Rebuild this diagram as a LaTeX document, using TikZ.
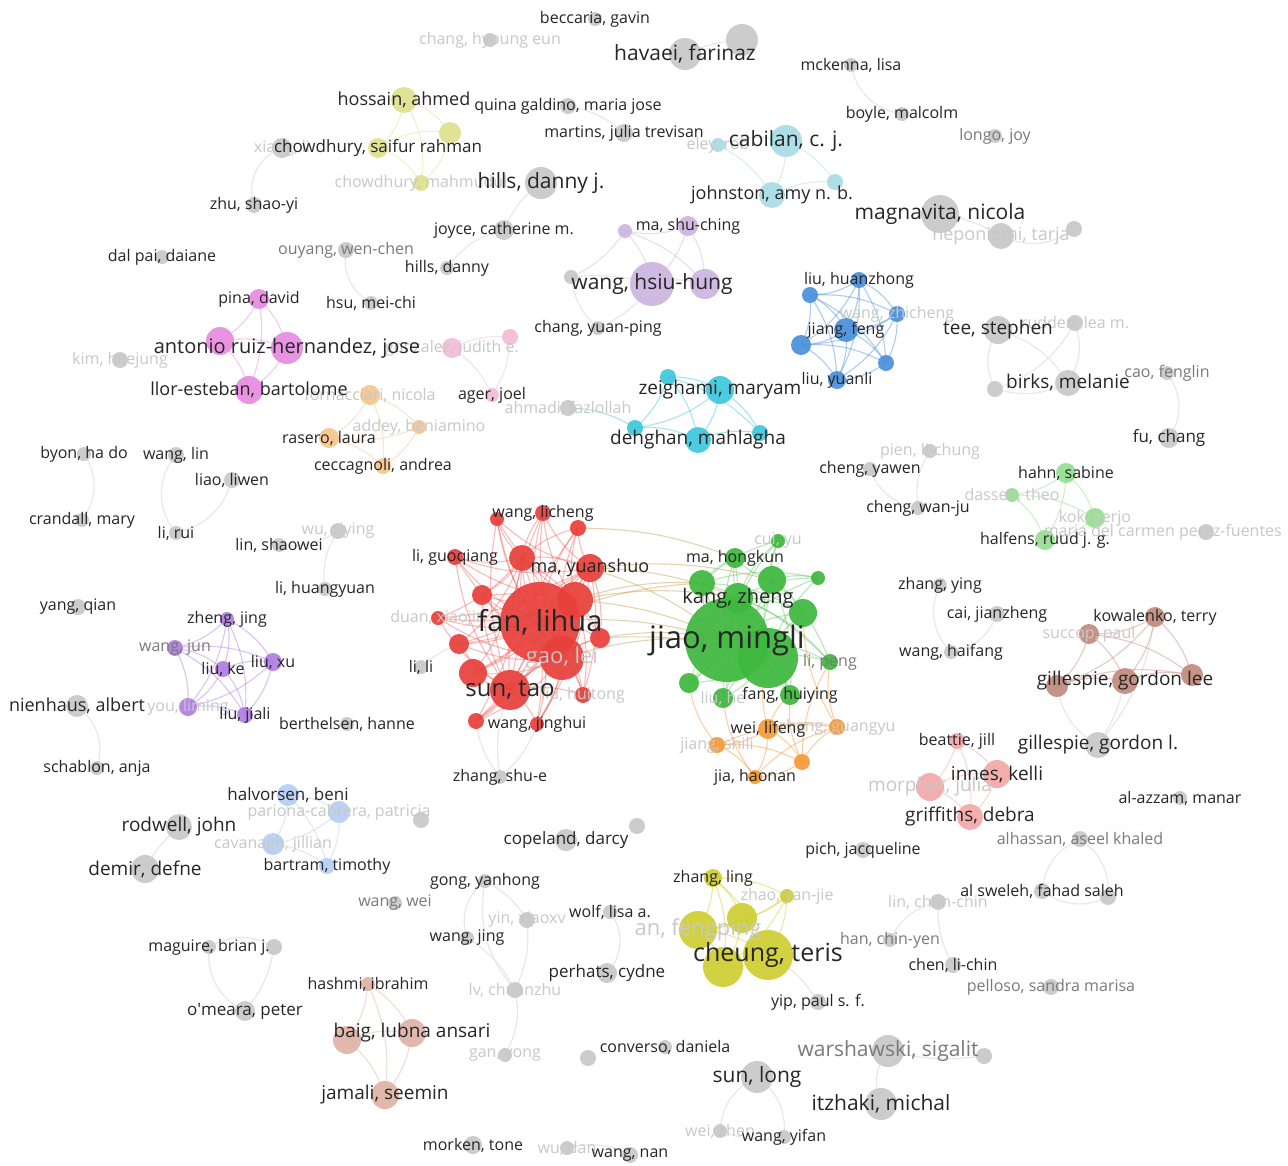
\documentclass[tikz,border=0pt]{standalone}
\usepackage{fontspec}
\setmainfont{Open Sans}
\pgfdeclarelayer{bglayer}\pgfdeclarelayer{edgelayer}\pgfdeclarelayer{textlayer}
\pgfsetlayers{bglayer,edgelayer,main,textlayer}
\definecolor{cgray}{HTML}{C8C8C8}
\definecolor{cyel}{HTML}{E0E08F}
\definecolor{ccyl}{HTML}{A8DDE7}
\definecolor{clav}{HTML}{CDB5E0}
\definecolor{cblue}{HTML}{4A90DB}
\definecolor{cpink}{HTML}{E88BE1}
\definecolor{cpinkl}{HTML}{F2BCD9}
\definecolor{corl}{HTML}{F6C68E}
\definecolor{ccy}{HTML}{3EC8DD}
\definecolor{cgrl}{HTML}{95DE8F}
\definecolor{cred}{HTML}{E8403B}
\definecolor{cgreen}{HTML}{3DB83D}
\definecolor{cor}{HTML}{F59A38}
\definecolor{cpur}{HTML}{B07EE0}
\definecolor{cbll}{HTML}{B5CFF2}
\definecolor{cbr}{HTML}{C28A7E}
\definecolor{csal}{HTML}{F5A8A8}
\definecolor{colv}{HTML}{CECE32}
\definecolor{ctan}{HTML}{DFB2A6}
\definecolor{labcol}{HTML}{262626}
\definecolor{midcol}{HTML}{7A7A7A}
\definecolor{fadecol}{HTML}{C8C8C8}
\newcommand\myfs[1]{\fontsize{#1}{#1}\selectfont}
\newcommand\mynode[5]{\node[#5,minimum size=#4*2] (#1) at (#2,#3) {};}
\newcommand\mylab[3]{\node[#3] (#1-t) at (#1) {#2};}
\begin{document}
\begin{tikzpicture}[x=1pt,y=-1pt,
  nd/.style={circle,inner sep=0pt,outer sep=0pt,draw=none,fill opacity=0.92},
  ngray/.style={nd,fill=cgray}, nyel/.style={nd,fill=cyel}, ncyl/.style={nd,fill=ccyl},
  nlav/.style={nd,fill=clav}, nblue/.style={nd,fill=cblue}, npink/.style={nd,fill=cpink},
  npinkl/.style={nd,fill=cpinkl}, norl/.style={nd,fill=corl}, ncy/.style={nd,fill=ccy},
  ngrl/.style={nd,fill=cgrl}, nred/.style={nd,fill=cred}, ngreen/.style={nd,fill=cgreen},
  nor/.style={nd,fill=cor}, npur/.style={nd,fill=cpur}, nbll/.style={nd,fill=cbll},
  nbr/.style={nd,fill=cbr}, nsal/.style={nd,fill=csal}, nolv/.style={nd,fill=colv},
  ntan/.style={nd,fill=ctan},
  lab/.style={inner sep=0pt,text=labcol,font=\myfs{16}},
  labm/.style={lab,text=midcol},
  labf/.style={lab,text=fadecol},
  eg/.style={draw=black!9,line width=1.2pt},
  ec/.style={line width=1.1pt,draw opacity=0.45}]
\begin{pgfonlayer}{bglayer}
\fill[white] (0,0) rectangle (1288,1165);
\end{pgfonlayer}
\useasboundingbox (0,0) rectangle (1288,1165);
\clip (0,0) rectangle (1288,1165);
% ---------- nodes ----------
\mynode{beccaria}{595}{19}{7}{ngray}
\mynode{changh}{490}{40}{7}{ngray}
\mynode{havaei}{685}{54}{16}{ngray}
\mynode{hav2}{742}{40}{16}{ngray}
\mynode{mckenna}{851}{65}{7}{ngray}
\mynode{boyle}{902}{114}{7}{ngray}
\mynode{longo}{995}{136}{7}{ngray}
\mynode{hossain}{404}{100}{13}{nyel}
\mynode{chowsr}{378}{148}{10}{nyel}
\mynode{yel3}{450}{133}{11}{nyel}
\mynode{chowm}{421}{183}{8}{nyel}
\mynode{xia}{282}{148}{10}{ngray}
\mynode{zhu}{254}{205}{8}{ngray}
\mynode{hillsdj}{541}{183}{16}{ngray}
\mynode{joyce}{504}{230}{10}{ngray}
\mynode{hillsd}{447}{268}{7}{ngray}
\mynode{quina}{568}{106}{8}{ngray}
\mynode{martins}{624}{133}{9}{ngray}
\mynode{cabilan}{786}{141}{16}{ncyl}
\mynode{eley}{718}{145}{7}{ncyl}
\mynode{johnston}{772}{195}{13}{ncyl}
\mynode{cy4}{835}{182}{8}{ncyl}
\mynode{magnavita}{940}{214}{19}{ngray}
\mynode{heponiemi}{1001}{236}{13}{ngray}
\mynode{mag3}{1074}{229}{8}{ngray}
\mynode{ouyang}{346}{250}{8}{ngray}
\mynode{hsu}{371}{303}{7}{ngray}
\mynode{dalpai}{162}{257}{7}{ngray}
\mynode{mashu}{688}{226}{10}{nlav}
\mynode{lav2}{625}{231}{7}{nlav}
\mynode{wanghh}{652}{284}{22}{nlav}
\mynode{lav4}{705}{284}{15}{nlav}
\mynode{g571}{571}{277}{7}{ngray}
\mynode{changyp}{598}{328}{7}{ngray}
\mynode{liuh}{859}{280}{8}{nblue}
\mynode{b2}{810}{295}{8}{nblue}
\mynode{wangz}{897}{314}{8}{nblue}
\mynode{jiangf}{846}{330}{12}{nblue}
\mynode{b5}{801}{345}{10}{nblue}
\mynode{b6}{886}{363}{8}{nblue}
\mynode{liuy}{837}{380}{9}{nblue}
\mynode{tee}{998}{330}{14}{ngray}
\mynode{rudden}{1075}{323}{8}{ngray}
\mynode{birks}{1068}{383}{13}{ngray}
\mynode{t4}{995}{389}{8}{ngray}
\mynode{cao}{1167}{373}{7}{ngray}
\mynode{fu}{1169}{438}{10}{ngray}
\mynode{pina}{259}{299}{10}{npink}
\mynode{arh1}{220}{341}{14}{npink}
\mynode{arh}{287}{348}{16}{npink}
\mynode{llor}{249}{390}{14}{npink}
\mynode{kim}{120}{360}{8}{ngray}
\mynode{judith}{452}{348}{10}{npinkl}
\mynode{pl2}{510}{337}{8}{npinkl}
\mynode{ager}{492}{395}{7}{npinkl}
\mynode{fornac}{370}{395}{10}{norl}
\mynode{addey}{419}{427}{7}{norl}
\mynode{rasero}{329}{438}{10}{norl}
\mynode{cecca}{383}{466}{8}{norl}
\mynode{ahmadi}{568}{408}{8}{ngray}
\mynode{c1}{668}{377}{8}{ncy}
\mynode{zeighami}{720}{390}{14}{ncy}
\mynode{c3}{635}{428}{8}{ncy}
\mynode{dehghan}{698}{440}{13}{ncy}
\mynode{c5}{760}{433}{8}{ncy}
\mynode{byon}{84}{454}{7}{ngray}
\mynode{crandall}{82}{520}{7}{ngray}
\mynode{wanglin}{176}{455}{8}{ngray}
\mynode{liao}{232}{480}{8}{ngray}
\mynode{lirui}{176}{533}{7}{ngray}
\mynode{linsw}{279}{545}{7}{ngray}
\mynode{wusy}{338}{531}{8}{ngray}
\mynode{lihy}{325}{589}{7}{ngray}
\mynode{chengyw}{870}{469}{7}{ngray}
\mynode{pien}{930}{451}{7}{ngray}
\mynode{chengwj}{918}{508}{7}{ngray}
\mynode{hahn}{1066}{473}{10}{ngrl}
\mynode{dassen}{1012}{495}{7}{ngrl}
\mynode{kok}{1095}{518}{10}{ngrl}
\mynode{halfens}{1045}{540}{10}{ngrl}
\mynode{perez}{1206}{532}{8}{ngray}
% red cluster
\mynode{r1}{497}{519}{7}{nred}
\mynode{wanglc}{543}{513}{8}{nred}
\mynode{r3}{578}{528}{8}{nred}
\mynode{ligq}{455}{557}{8}{nred}
\mynode{r5}{522}{558}{13}{nred}
\mynode{mays}{590}{568}{14}{nred}
\mynode{r7}{482}{595}{10}{nred}
\mynode{fan}{540}{622}{40}{nred}
\mynode{r9}{575}{600}{18}{nred}
\mynode{r10}{600}{638}{10}{nred}
\mynode{r11}{459}{644}{10}{nred}
\mynode{r12}{473}{673}{14}{nred}
\mynode{gaolei}{562}{658}{22}{nred}
\mynode{suntao}{510}{690}{20}{nred}
\mynode{liuht}{583}{695}{8}{nred}
\mynode{r16}{476}{721}{8}{nred}
\mynode{wangjh}{537}{724}{7}{nred}
\mynode{duan}{438}{618}{7}{nred}
\mynode{lili}{421}{667}{7}{ngray}
\mynode{zhangse}{500}{777}{7}{ngray}
% green cluster
\mynode{cuiyu}{778}{541}{7}{ngreen}
\mynode{mahk}{735}{558}{10}{ngreen}
\mynode{g3}{702}{583}{13}{ngreen}
\mynode{g4}{772}{580}{14}{ngreen}
\mynode{g5}{818}{578}{7}{ngreen}
\mynode{kangz}{738}{598}{15}{ngreen}
\mynode{jiao}{727}{640}{42}{ngreen}
\mynode{g8}{768}{658}{30}{ngreen}
\mynode{g9}{803}{613}{14}{ngreen}
\mynode{lipeng}{830}{662}{8}{ngreen}
\mynode{g11}{689}{683}{10}{ngreen}
\mynode{liuhe}{723}{698}{10}{ngreen}
\mynode{fangh}{790}{695}{10}{ngreen}
% orange
\mynode{weilf}{768}{729}{10}{nor}
\mynode{jiangs}{717}{745}{8}{nor}
\mynode{o3}{802}{762}{8}{nor}
\mynode{jiahn}{755}{777}{7}{nor}
\mynode{zhanggy}{837}{727}{8}{nor}
% purple
\mynode{zhengj}{227}{619}{7}{npur}
\mynode{wangjun}{175}{648}{8}{npur}
\mynode{liuke}{223}{669}{8}{npur}
\mynode{liuxu}{273}{662}{9}{npur}
\mynode{youlm}{188}{707}{9}{npur}
\mynode{liujl}{245}{715}{8}{npur}
\mynode{yangq}{78}{607}{8}{ngray}
\mynode{nienhaus}{77}{706}{11}{ngray}
\mynode{schablon}{97}{768}{7}{ngray}
\mynode{berthelsen}{347}{724}{7}{ngray}
\mynode{zhangying}{940}{585}{7}{ngray}
\mynode{cai}{997}{614}{8}{ngray}
\mynode{wanghf}{951}{652}{7}{ngray}
% brown
\mynode{kowal}{1155}{617}{10}{nbr}
\mynode{succop}{1089}{634}{10}{nbr}
\mynode{gl1}{1057}{686}{11}{nbr}
\mynode{gl2}{1125}{681}{13}{nbr}
\mynode{gl3}{1192}{675}{11}{nbr}
\mynode{gillesl}{1098}{745}{13}{ngray}
% salmon
\mynode{beattie}{957}{741}{8}{nsal}
\mynode{innes}{997}{774}{14}{nsal}
\mynode{morphet}{930}{787}{14}{nsal}
\mynode{griff}{970}{817}{13}{nsal}
\mynode{alazzam}{1180}{798}{7}{ngray}
\mynode{alhassan}{1080}{839}{8}{ngray}
\mynode{alsweleh}{1042}{891}{8}{ngray}
\mynode{as2}{1108}{897}{8}{ngray}
% light blue
\mynode{halvorsen}{288}{795}{11}{nbll}
\mynode{pariona}{339}{812}{11}{nbll}
\mynode{cavanagh}{273}{844}{11}{nbll}
\mynode{bartram}{327}{866}{8}{nbll}
\mynode{g421}{421}{820}{8}{ngray}
\mynode{rodwell}{179}{827}{13}{ngray}
\mynode{demir}{145}{869}{14}{ngray}
\mynode{copeland}{566}{840}{11}{ngray}
\mynode{g637}{637}{826}{8}{ngray}
\mynode{pich}{863}{850}{8}{ngray}
\mynode{gong}{485}{881}{7}{ngray}
\mynode{yinx}{527}{920}{8}{ngray}
\mynode{wangjing}{467}{938}{7}{ngray}
\mynode{lvc}{515}{990}{8}{ngray}
\mynode{gany}{505}{1055}{7}{ngray}
\mynode{wangwei}{395}{903}{7}{ngray}
\mynode{wolf}{610}{912}{7}{ngray}
\mynode{perhats}{607}{973}{10}{ngray}
% olive
\mynode{zhangl}{713}{878}{9}{nolv}
\mynode{zhao}{787}{896}{7}{nolv}
\mynode{y3}{742}{918}{15}{nolv}
\mynode{anf}{698}{930}{19}{nolv}
\mynode{cheung}{768}{955}{25}{nolv}
\mynode{y6}{723}{967}{20}{nolv}
\mynode{yip}{818}{1002}{8}{ngray}
% tan
\mynode{hashmi}{368}{984}{7}{ntan}
\mynode{baig1}{347}{1040}{14}{ntan}
\mynode{baig}{412}{1033}{14}{ntan}
\mynode{jamali}{385}{1095}{14}{ntan}
\mynode{maguire}{209}{947}{7}{ngray}
\mynode{mg2}{274}{947}{8}{ngray}
\mynode{omeara}{245}{1011}{10}{ngray}
\mynode{linc}{938}{902}{8}{ngray}
\mynode{han}{890}{940}{7}{ngray}
\mynode{chen}{953}{965}{8}{ngray}
\mynode{pelloso}{1051}{987}{8}{ngray}
\mynode{warsh}{888}{1051}{16}{ngray}
\mynode{w2}{984}{1056}{8}{ngray}
\mynode{itzhaki}{881}{1104}{16}{ngray}
\mynode{converso}{665}{1047}{7}{ngray}
\mynode{c588}{588}{1058}{8}{ngray}
\mynode{sunlong}{757}{1077}{16}{ngray}
\mynode{weizhen}{720}{1131}{7}{ngray}
\mynode{wangyf}{784}{1137}{7}{ngray}
\mynode{morken}{473}{1145}{9}{ngray}
\mynode{wudan}{567}{1148}{7}{ngray}
\mynode{wangnan}{630}{1155}{8}{ngray}
% ---------- edges ----------
\begin{pgfonlayer}{edgelayer}
\draw[eg] (havaei.center) to[bend left=10] (hav2.center);
\draw[eg] (mckenna.center) to[bend right=35] (boyle.center);
\draw[eg] (xia.center) to[bend right=45] (zhu.center);
\draw[eg] (hillsdj.center) to[bend right=15] (joyce.center);
\draw[eg] (joyce.center) to[bend right=20] (hillsd.center);
\draw[eg] (quina.center) to[bend left=15] (martins.center);
\draw[eg] (magnavita.center) to[bend left=10] (heponiemi.center);
\draw[eg] (heponiemi.center) to[bend right=30] (mag3.center);
\draw[eg] (ouyang.center) to[bend right=35] (hsu.center);
\draw[eg] (g571.center) to[bend left=10] (wanghh.center);
\draw[eg] (changyp.center) to[bend left=20] (g571.center);
\draw[eg] (changyp.center) to[bend right=15] (wanghh.center);
\draw[eg] (tee.center) to[bend left=20] (birks.center);
\draw[eg] (tee.center) to[bend right=30] (t4.center);
\draw[eg] (rudden.center) to[bend left=25] (birks.center);
\draw[eg] (rudden.center) to[bend left=20] (t4.center);
\draw[eg] (t4.center) to[bend right=20] (birks.center);
\draw[eg] (cao.center) to[bend left=35] (fu.center);
\draw[eg] (byon.center) to[bend left=35] (crandall.center);
\draw[eg] (wanglin.center) to[bend right=40] (lirui.center);
\draw[eg] (liao.center) to[bend left=30] (lirui.center);
\draw[eg] (wusy.center) to[bend left=20] (linsw.center);
\draw[eg] (wusy.center) to[bend right=20] (lihy.center);
\draw[eg] (chengyw.center) to[bend right=30] (chengwj.center);
\draw[eg] (pien.center) to[bend right=20] (chengwj.center);
\draw[eg] (nienhaus.center) to[bend left=35] (schablon.center);
\draw[eg] (zhangying.center) to[bend right=35] (wanghf.center);
\draw[eg] (cai.center) to[bend left=30] (wanghf.center);
\draw[eg] (alhassan.center) to[bend right=30] (alsweleh.center);
\draw[eg] (alhassan.center) to[bend left=30] (as2.center);
\draw[eg] (alsweleh.center) to[bend right=30] (as2.center);
\draw[eg] (linc.center) to[bend right=25] (han.center);
\draw[eg] (linc.center) to[bend right=15] (chen.center);
\draw[eg] (warsh.center) to[bend right=30] (itzhaki.center);
\draw[eg] (warsh.center) to[bend right=10] (w2.center);
\draw[eg] (sunlong.center) to[bend right=30] (weizhen.center);
\draw[eg] (sunlong.center) to[bend left=30] (wangyf.center);
\draw[eg] (weizhen.center) to[bend right=15] (wangyf.center);
\draw[eg] (wudan.center) to[bend left=20] (wangnan.center);
\draw[eg] (maguire.center) to[bend right=35] (omeara.center);
\draw[eg] (mg2.center) to[bend left=15] (omeara.center);
\draw[eg] (maguire.center) to[bend left=30] (mg2.center);
\draw[eg] (gong.center) to[bend right=35] (wangjing.center);
\draw[eg] (gong.center) to[bend left=15] (yinx.center);
\draw[eg] (wangjing.center) to[bend left=15] (lvc.center);
\draw[eg] (yinx.center) to[bend left=15] (lvc.center);
\draw[eg] (gong.center) to[bend right=25] (lvc.center);
\draw[eg] (lvc.center) to[bend left=20] (gany.center);
\draw[eg] (wolf.center) to[bend left=40] (perhats.center);
\draw[eg] (rodwell.center) to[bend right=10] (demir.center);
\draw[eg] (cheung.center) to[bend left=15] (yip.center);
\draw[eg] (gl1.center) to[bend right=25] (gillesl.center);
\draw[eg] (gl2.center) to[bend left=10] (gillesl.center);
\draw[eg] (kowal.center) to[bend left=15] (gillesl.center);
\draw[eg] (zhangse.center) to[bend left=15] (suntao.center);
\draw[eg] (zhangse.center) to[bend left=15] (r16.center);
\draw[eg] (zhangse.center) to[bend right=15] (wangjh.center);
\draw[eg] (lili.center) to[bend left=10] (r11.center);
\foreach \a/\b in {hossain/chowsr,hossain/yel3,hossain/chowm,chowsr/yel3,chowsr/chowm,yel3/chowm}
  \draw[ec,draw=cyel] (\a.center) to[bend left=20] (\b.center);
\foreach \a/\b in {eley/cabilan,eley/johnston,cabilan/johnston,cabilan/cy4,johnston/cy4}
  \draw[ec,draw=ccyl] (\a.center) to[bend left=15] (\b.center);
\foreach \a/\b in {mashu/lav2,mashu/wanghh,mashu/lav4,lav2/wanghh,lav2/lav4,wanghh/lav4,lav2/g571}
  \draw[ec,draw=clav] (\a.center) to[bend left=15] (\b.center);
\foreach \a/\b in {liuh/b2,liuh/wangz,liuh/jiangf,liuh/b5,liuh/b6,liuh/liuy,b2/wangz,b2/jiangf,b2/b5,b2/b6,b2/liuy,wangz/jiangf,wangz/b5,wangz/b6,wangz/liuy,jiangf/b5,jiangf/b6,jiangf/liuy,b5/b6,b5/liuy,b6/liuy}
  \draw[ec,draw=cblue] (\a.center) to[bend left=15] (\b.center);
\foreach \a/\b in {pina/arh1,pina/arh,pina/llor,arh1/arh,arh1/llor,arh/llor}
  \draw[ec,draw=cpink] (\a.center) to[bend left=15] (\b.center);
\foreach \a/\b in {judith/ager,pl2/ager,judith/pl2}
  \draw[ec,draw=cpinkl] (\a.center) to[bend left=15] (\b.center);
\foreach \a/\b in {fornac/addey,fornac/rasero,fornac/cecca,addey/rasero,addey/cecca,rasero/cecca}
  \draw[ec,draw=corl] (\a.center) to[bend left=15] (\b.center);
\foreach \a/\b in {c1/zeighami,c1/c3,c1/dehghan,c1/c5,zeighami/dehghan,zeighami/c5,zeighami/c3,dehghan/c5,c3/dehghan,ahmadi/c3}
  \draw[ec,draw=ccy] (\a.center) to[bend left=15] (\b.center);
\foreach \a/\b in {hahn/dassen,hahn/kok,hahn/halfens,dassen/kok,dassen/halfens,kok/halfens}
  \draw[ec,draw=cgrl] (\a.center) to[bend left=15] (\b.center);
\foreach \a/\b in {zhengj/wangjun,zhengj/liuke,zhengj/liuxu,zhengj/youlm,zhengj/liujl,wangjun/liuke,wangjun/liuxu,wangjun/youlm,wangjun/liujl,liuke/liuxu,liuke/youlm,liuke/liujl,liuxu/youlm,liuxu/liujl,youlm/liujl}
  \draw[ec,draw=cpur] (\a.center) to[bend left=15] (\b.center);
\foreach \a/\b in {kowal/succop,kowal/gl1,kowal/gl2,kowal/gl3,succop/gl1,succop/gl2,succop/gl3,gl1/gl2,gl1/gl3,gl2/gl3}
  \draw[ec,draw=cbr] (\a.center) to[bend left=15] (\b.center);
\foreach \a/\b in {beattie/innes,beattie/morphet,beattie/griff,innes/griff,morphet/griff,morphet/innes}
  \draw[ec,draw=csal] (\a.center) to[bend left=15] (\b.center);
\foreach \a/\b in {halvorsen/pariona,halvorsen/cavanagh,halvorsen/bartram,pariona/cavanagh,pariona/bartram,cavanagh/bartram}
  \draw[ec,draw=cbll] (\a.center) to[bend left=15] (\b.center);
\foreach \a/\b in {zhangl/zhao,zhangl/y3,zhangl/anf,zhangl/cheung,zhangl/y6,zhao/y3,zhao/anf,zhao/cheung,zhao/y6,y3/anf,y3/cheung,y3/y6,anf/cheung,anf/y6,cheung/y6}
  \draw[ec,draw=colv] (\a.center) to[bend left=15] (\b.center);
\foreach \a/\b in {hashmi/baig1,hashmi/baig,hashmi/jamali,baig1/baig,baig1/jamali,baig/jamali}
  \draw[ec,draw=ctan] (\a.center) to[bend left=15] (\b.center);
\foreach \a/\b in {weilf/jiangs,weilf/o3,weilf/jiahn,weilf/zhanggy,jiangs/o3,jiangs/jiahn,jiangs/zhanggy,o3/jiahn,o3/zhanggy,jiahn/zhanggy,weilf/fangh,weilf/g8,zhanggy/lipeng,jiangs/g11,o3/fangh,jiahn/liuhe,zhanggy/g9,o3/lipeng}
  \draw[ec,draw=cor] (\a.center) to[bend left=15] (\b.center);
\foreach \a in {fan,suntao,gaolei,r9,r5,mays}{
  \foreach \b in {r1,wanglc,r3,ligq,r7,r10,r11,r12,liuht,r16,wangjh,duan}{
    \draw[ec,draw=cred,draw opacity=0.35] (\a.center) to[bend left=14] (\b.center);}}
\foreach \a/\b in {fan/suntao,fan/gaolei,fan/r9,fan/r5,fan/mays,suntao/gaolei,suntao/r9,r5/mays,r9/mays,gaolei/r9}
  \draw[ec,draw=cred,draw opacity=0.35] (\a.center) to[bend left=14] (\b.center);
\foreach \a in {jiao,g8,kangz,g4,g3}{
  \foreach \b in {cuiyu,mahk,g5,g9,lipeng,g11,liuhe,fangh}{
    \draw[ec,draw=cgreen,draw opacity=0.35] (\a.center) to[bend left=14] (\b.center);}}
\foreach \a/\b in {fan/jiao,r9/jiao,mays/kangz,r10/g8,fan/g3,r9/g3,mays/jiao,r3/mahk,gaolei/jiao,r10/jiao,mays/g4,r9/kangz}
  \draw[ec,draw=brown!60!cyel,draw opacity=0.5] (\a.center) to[bend left=10] (\b.center);
\end{pgfonlayer}
% ---------- labels ----------
\begin{pgfonlayer}{textlayer}
\mylab{changh}{chang, hyoung eun}{labf}
\mylab{chowm}{chowdhury, mahmudul}{labf}
\mylab{xia}{xiang, li}{labf}
\mylab{eley}{eley, rob}{labf}
\mylab{heponiemi}{heponiemi, tarja}{labf,font=\myfs{18}}
\mylab{wangz}{wang, zhicheng}{labf}
\mylab{rudden}{rudden, lea m.}{labf}
\mylab{kim}{kim, heejung}{labf}
\mylab{judith}{gonzalez, judith e.}{labf}
\mylab{fornac}{fornacciari, nicola}{labf}
\mylab{addey}{addey, beniamino}{labf}
\mylab{ahmadi}{ahmadi, fazlollah}{labf}
\mylab{wusy}{wu, siying}{labf}
\mylab{pien}{pien, li-chung}{labf}
\mylab{dassen}{dassen, theo}{labf}
\mylab{kok}{kok, gerjo}{labf}
\node[labf,anchor=east] (perez-t) at ([xshift=76pt]perez.center) {maria del carmen perez-fuentes};
\mylab{duan}{duan, xiaojin}{labf}
\mylab{gaolei}{gao, lei}{labf,font=\myfs{22}}
\mylab{liuht}{liu, huitong}{labf}
\mylab{cuiyu}{cui, yu}{labf}
\mylab{liuhe}{liu, he}{labf}
\mylab{jiangs}{jiang, shili}{labf}
\mylab{zhanggy}{zhang, guangyu}{labf}
\mylab{youlm}{you, liming}{labf}
\mylab{succop}{succop, paul}{labf}
\mylab{morphet}{morphet, julia}{labf,font=\myfs{19}}
\mylab{pariona}{pariona-cabrera, patricia}{labf}
\mylab{cavanagh}{cavanagh, jillian}{labf}
\mylab{yinx}{yin, xiaoxv}{labf}
\mylab{lvc}{lv, chuanzhu}{labf}
\mylab{gany}{gan, yong}{labf}
\mylab{zhao}{zhao, yan-jie}{labf}
\mylab{anf}{an, fengping}{labf,font=\myfs{22}}
\mylab{linc}{lin, chun-chin}{labf}
\mylab{weizhen}{wei, zhen}{labf}
\mylab{wudan}{wu, dan}{labf}
% mid grey
\mylab{longo}{longo, joy}{labm}
\mylab{ouyang}{ouyang, wen-chen}{labm}
\mylab{cao}{cao, fenglin}{labm}
\mylab{lipeng}{li, peng}{labm}
\mylab{wangjun}{wang, jun}{labm}
\mylab{alhassan}{alhassan, aseel khaled}{labm}
\mylab{wangwei}{wang, wei}{labm}
\mylab{han}{han, chin-yen}{labm}
\mylab{pelloso}{pelloso, sandra marisa}{labm}
\mylab{warsh}{warshawski, sigalit}{labm,font=\myfs{21}}
% dark
\mylab{beccaria}{beccaria, gavin}{lab}
\mylab{havaei}{havaei, farinaz}{lab,font=\myfs{21}}
\mylab{mckenna}{mckenna, lisa}{lab}
\mylab{boyle}{boyle, malcolm}{lab}
\mylab{hossain}{hossain, ahmed}{lab,font=\myfs{18}}
\mylab{chowsr}{chowdhury, saifur rahman}{lab,font=\myfs{17}}
\mylab{zhu}{zhu, shao-yi}{lab}
\mylab{hillsdj}{hills, danny j.}{lab,font=\myfs{21}}
\mylab{joyce}{joyce, catherine m.}{lab}
\mylab{hillsd}{hills, danny}{lab}
\mylab{quina}{quina galdino, maria jose}{lab}
\mylab{martins}{martins, julia trevisan}{lab}
\mylab{cabilan}{cabilan, c. j.}{lab,font=\myfs{21}}
\mylab{johnston}{johnston, amy n. b.}{lab,font=\myfs{18}}
\mylab{magnavita}{magnavita, nicola}{lab,font=\myfs{21}}
\mylab{hsu}{hsu, mei-chi}{lab}
\mylab{dalpai}{dal pai, daiane}{lab}
\mylab{mashu}{ma, shu-ching}{lab}
\mylab{wanghh}{wang, hsiu-hung}{lab,font=\myfs{21}}
\mylab{changyp}{chang, yuan-ping}{lab}
\mylab{liuh}{liu, huanzhong}{lab}
\mylab{jiangf}{jiang, feng}{lab}
\mylab{liuy}{liu, yuanli}{lab}
\mylab{tee}{tee, stephen}{lab,font=\myfs{19}}
\mylab{birks}{birks, melanie}{lab,font=\myfs{19}}
\mylab{fu}{fu, chang}{lab,font=\myfs{17}}
\mylab{pina}{pina, david}{lab}
\mylab{arh}{antonio ruiz-hernandez, jose}{lab,font=\myfs{20}}
\mylab{llor}{llor-esteban, bartolome}{lab,font=\myfs{18}}
\mylab{ager}{ager, joel}{lab}
\mylab{rasero}{rasero, laura}{lab}
\mylab{cecca}{ceccagnoli, andrea}{lab}
\mylab{zeighami}{zeighami, maryam}{lab,font=\myfs{19}}
\mylab{dehghan}{dehghan, mahlagha}{lab,font=\myfs{19}}
\mylab{byon}{byon, ha do}{lab}
\mylab{crandall}{crandall, mary}{lab}
\mylab{wanglin}{wang, lin}{lab}
\mylab{liao}{liao, liwen}{lab}
\mylab{lirui}{li, rui}{lab}
\mylab{linsw}{lin, shaowei}{lab}
\mylab{lihy}{li, huangyuan}{lab}
\mylab{chengyw}{cheng, yawen}{lab}
\mylab{chengwj}{cheng, wan-ju}{lab}
\mylab{hahn}{hahn, sabine}{lab}
\mylab{halfens}{halfens, ruud j. g.}{lab}
\mylab{wanglc}{wang, licheng}{lab}
\mylab{ligq}{li, guoqiang}{lab}
\mylab{mays}{ma, yuanshuo}{lab,font=\myfs{18}}
\mylab{lili}{li, li}{lab}
\mylab{wangjh}{wang, jinghui}{lab}
\mylab{zhangse}{zhang, shu-e}{lab}
\mylab{suntao}{sun, tao}{lab,font=\myfs{24}}
\mylab{fan}{fan, lihua}{lab,font=\myfs{29}}
\mylab{mahk}{ma, hongkun}{lab}
\mylab{kangz}{kang, zheng}{lab,font=\myfs{20}}
\mylab{fangh}{fang, huiying}{lab}
\mylab{jiao}{jiao, mingli}{lab,font=\myfs{31}}
\mylab{weilf}{wei, lifeng}{lab}
\mylab{jiahn}{jia, haonan}{lab}
\mylab{zhengj}{zheng, jing}{lab}
\mylab{liuke}{liu, ke}{lab}
\mylab{liuxu}{liu, xu}{lab}
\mylab{liujl}{liu, jiali}{lab}
\mylab{yangq}{yang, qian}{lab}
\mylab{nienhaus}{nienhaus, albert}{lab,font=\myfs{18}}
\mylab{schablon}{schablon, anja}{lab}
\mylab{berthelsen}{berthelsen, hanne}{lab}
\mylab{zhangying}{zhang, ying}{lab}
\mylab{cai}{cai, jianzheng}{lab}
\mylab{wanghf}{wang, haifang}{lab}
\mylab{kowal}{kowalenko, terry}{lab}
\mylab{gl2}{gillespie, gordon lee}{lab,font=\myfs{19}}
\mylab{gillesl}{gillespie, gordon l.}{lab,font=\myfs{19}}
\mylab{beattie}{beattie, jill}{lab}
\mylab{innes}{innes, kelli}{lab,font=\myfs{19}}
\mylab{griff}{griffiths, debra}{lab,font=\myfs{19}}
\mylab{alazzam}{al-azzam, manar}{lab}
\mylab{alsweleh}{al sweleh, fahad saleh}{lab}
\mylab{halvorsen}{halvorsen, beni}{lab,font=\myfs{17}}
\mylab{bartram}{bartram, timothy}{lab}
\mylab{rodwell}{rodwell, john}{lab,font=\myfs{19}}
\mylab{demir}{demir, defne}{lab,font=\myfs{19}}
\mylab{copeland}{copeland, darcy}{lab,font=\myfs{17}}
\mylab{pich}{pich, jacqueline}{lab}
\mylab{gong}{gong, yanhong}{lab}
\mylab{wangjing}{wang, jing}{lab}
\mylab{wolf}{wolf, lisa a.}{lab}
\mylab{perhats}{perhats, cydne}{lab,font=\myfs{17}}
\mylab{zhangl}{zhang, ling}{lab}
\mylab{cheung}{cheung, teris}{lab,font=\myfs{25}}
\mylab{yip}{yip, paul s. f.}{lab}
\mylab{hashmi}{hashmi, ibrahim}{lab}
\mylab{baig}{baig, lubna ansari}{lab,font=\myfs{19}}
\mylab{jamali}{jamali, seemin}{lab,font=\myfs{19}}
\mylab{maguire}{maguire, brian j.}{lab}
\mylab{omeara}{o\textquotesingle meara, peter}{lab,font=\myfs{17}}
\mylab{chen}{chen, li-chin}{lab}
\mylab{itzhaki}{itzhaki, michal}{lab,font=\myfs{21}}
\mylab{converso}{converso, daniela}{lab}
\mylab{sunlong}{sun, long}{lab,font=\myfs{21}}
\mylab{wangyf}{wang, yifan}{lab}
\mylab{morken}{morken, tone}{lab}
\mylab{wangnan}{wang, nan}{lab}
\end{pgfonlayer}
\end{tikzpicture}
\end{document}
